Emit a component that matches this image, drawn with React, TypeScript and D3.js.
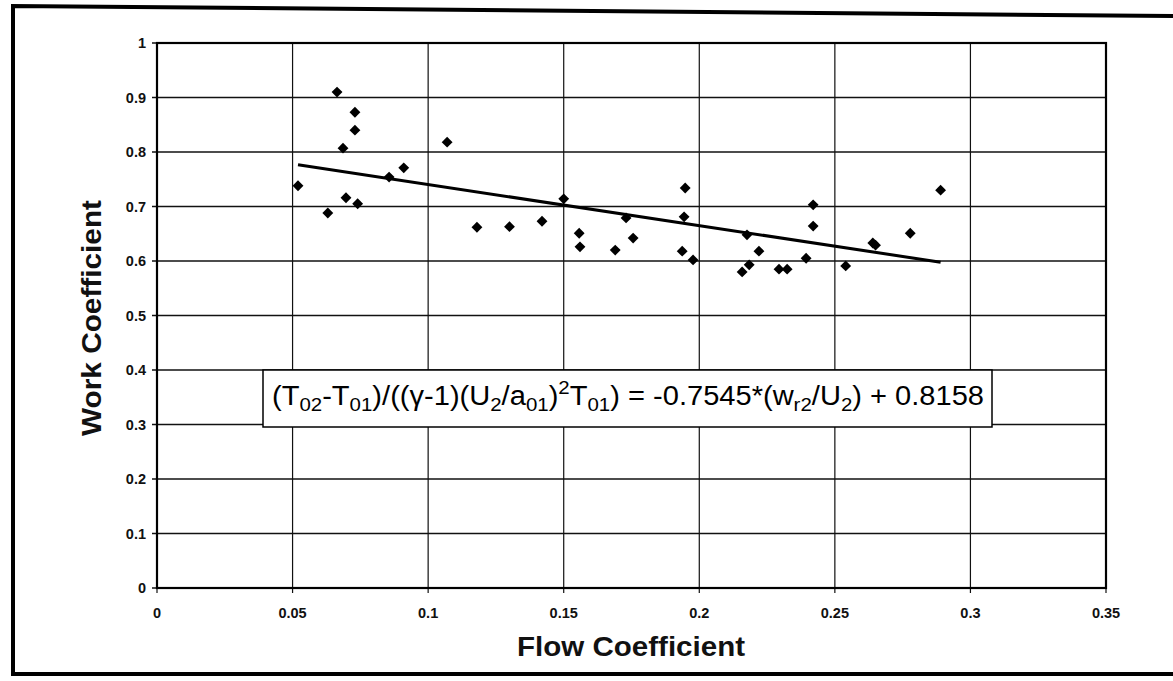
import React from "react";
import * as d3 from "d3";

const flowCoeff = [
  0.052, 0.063, 0.0664, 0.0686, 0.0697, 0.073, 0.073, 0.074, 0.0856, 0.091, 0.107,
  0.118, 0.130, 0.142, 0.150, 0.1557, 0.156, 0.169, 0.173, 0.1756, 0.1948, 0.1944,
  0.1937, 0.1977, 0.2176, 0.222, 0.2184, 0.2158, 0.2294, 0.2324, 0.2394, 0.242, 0.242,
  0.254, 0.264, 0.265, 0.2778, 0.289,
];
const workCoeff = [
  0.738, 0.688, 0.910, 0.807, 0.716, 0.873, 0.840, 0.705, 0.754, 0.771, 0.818,
  0.662, 0.663, 0.673, 0.714, 0.651, 0.626, 0.620, 0.679, 0.642, 0.734, 0.681,
  0.618, 0.602, 0.648, 0.618, 0.593, 0.580, 0.585, 0.585, 0.605, 0.703, 0.664,
  0.591, 0.633, 0.629, 0.651, 0.730,
];
const xTicks = [0, 0.05, 0.1, 0.15, 0.2, 0.25, 0.3, 0.35];
const yTicks = [0, 0.1, 0.2, 0.3, 0.4, 0.5, 0.6, 0.7, 0.8, 0.9, 1];
const slope = -0.7545;
const intercept = 0.8158;

const W = 1173;
const H = 681;
const plot = { left: 157, right: 1106, top: 43, bottom: 588 };

export default function App() {
  const x = d3.scaleLinear().domain([0, 0.35]).range([plot.left, plot.right]);
  const y = d3.scaleLinear().domain([0, 1]).range([plot.bottom, plot.top]);
  const xMin = d3.min(flowCoeff) as number;
  const xMax = d3.max(flowCoeff) as number;
  const trend = d3.line<number>().x((d) => x(d)).y((d) => y(slope * d + intercept))([xMin, xMax]);
  const diamond = d3.symbol().type(d3.symbolDiamond2).size(75)();
  const font = "'Liberation Sans', Arial, sans-serif";

  return (
    <svg
      width={W}
      height={H}
      style={{ position: "absolute", left: 0, top: 0, background: "#fff" }}
      fontFamily={font}
    >
      <rect x={0} y={0} width={W} height={H} fill="#fff" />
      {/* outer frame */}
      <path d={`M13,676 L13,6 L1173,16`} fill="none" stroke="#000" strokeWidth={4} />
      <path d={`M13,674 L1173,674`} fill="none" stroke="#000" strokeWidth={4} />

      {/* gridlines */}
      {yTicks.map((t) => (
        <line key={"gy" + t} x1={plot.left - 5} x2={plot.right} y1={y(t)} y2={y(t)} stroke="#111" strokeWidth={1.4} />
      ))}
      {xTicks.map((t) => (
        <line key={"gx" + t} x1={x(t)} x2={x(t)} y1={plot.top} y2={plot.bottom + 5} stroke="#111" strokeWidth={1.2} />
      ))}
      <rect
        x={plot.left}
        y={plot.top}
        width={plot.right - plot.left}
        height={plot.bottom - plot.top}
        fill="none"
        stroke="#000"
        strokeWidth={2.2}
      />

      {/* tick labels */}
      {yTicks.map((t) => (
        <text key={"ty" + t} x={146} y={y(t)} dy="0.35em" textAnchor="end" fontSize={14.5} fontWeight="bold" fill="#111">
          {String(t)}
        </text>
      ))}
      {xTicks.map((t) => (
        <text key={"tx" + t} x={x(t)} y={618} textAnchor="middle" fontSize={14.5} fontWeight="bold" fill="#111">
          {String(t)}
        </text>
      ))}

      {/* axis titles */}
      <text x={631} y={656} textAnchor="middle" fontSize={27} fontWeight="bold" fill="#111" textLength={228} lengthAdjust="spacingAndGlyphs">
        Flow Coefficient
      </text>
      <text
        transform={`translate(101,318) rotate(-90)`}
        textAnchor="middle"
        fontSize={27}
        fontWeight="bold"
        fill="#111"
        textLength={236}
        lengthAdjust="spacingAndGlyphs"
      >
        Work Coefficient
      </text>

      {/* trend line */}
      <path d={trend ?? ""} fill="none" stroke="#000" strokeWidth={3} />

      {/* data points */}
      {flowCoeff.map((f, i) => (
        <path key={"p" + i} d={diamond ?? ""} transform={`translate(${x(f)},${y(workCoeff[i])})`} fill="#000" />
      ))}

      {/* equation box */}
      <rect x={263} y={370} width={729} height={57} fill="#fff" stroke="#000" strokeWidth={1.5} />
      <text x={272} y={405} fontSize={27} fill="#000" textLength={712} lengthAdjust="spacingAndGlyphs">
        <tspan>(T</tspan>
        <tspan dy={6} fontSize={19}>02</tspan>
        <tspan dy={-6}>-T</tspan>
        <tspan dy={6} fontSize={19}>01</tspan>
        <tspan dy={-6}>)/((</tspan>
        <tspan>γ</tspan>
        <tspan>-1)(U</tspan>
        <tspan dy={6} fontSize={19}>2</tspan>
        <tspan dy={-6}>/a</tspan>
        <tspan dy={6} fontSize={19}>01</tspan>
        <tspan dy={-6}>)</tspan>
        <tspan dy={-11} fontSize={19}>2</tspan>
        <tspan dy={11}>T</tspan>
        <tspan dy={6} fontSize={19}>01</tspan>
        <tspan dy={-6}>) = -0.7545*(w</tspan>
        <tspan dy={6} fontSize={19}>r2</tspan>
        <tspan dy={-6}>/U</tspan>
        <tspan dy={6} fontSize={19}>2</tspan>
        <tspan dy={-6}>) + 0.8158</tspan>
      </text>
    </svg>
  );
}
